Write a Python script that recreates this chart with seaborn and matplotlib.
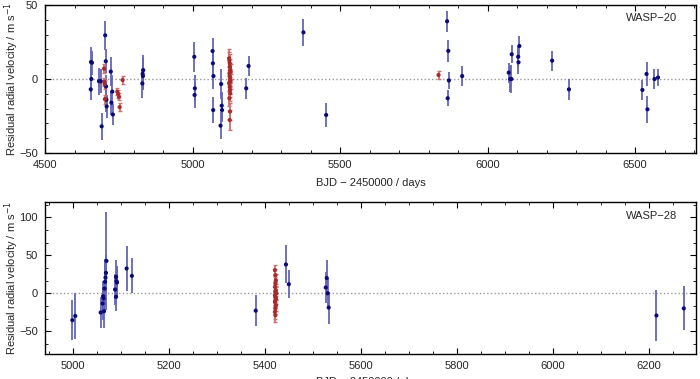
import numpy as np
import pandas as pd
import matplotlib
matplotlib.use('Agg')
import matplotlib.pyplot as plt
from matplotlib.ticker import MultipleLocator
import seaborn as sns

# WASP-20 residuals (BJD - 2450000, residual RV in m/s, error)
w20_coralie_t = [4655, 4656, 4657, 4659, 4683, 4689, 4692, 4704, 4706, 4707,
                 4708, 4709, 4723, 4725, 4728, 4730, 4830, 4831, 4832, 4833,
                 5006, 5007, 5008, 5068, 5069, 5070, 5071, 5095, 5097, 5099,
                 5100, 5182, 5190, 5376, 5453, 5863, 5865, 5867, 5869, 5914,
                 6072, 6077, 6081, 6082, 6104, 6105, 6108, 6219, 6276, 6525,
                 6539, 6542, 6566, 6578]
w20_coralie_rv = [-7, 11.5, 0, 11, -1.5, -1.5, -32, 29.5, 12, -5,
                  -14, -18.5, 5, -16, -8.5, -24, -3, 3.5, 2, 6,
                  15, -10.8, -6.3, 18.9, 10.6, -21, 2, -31.5, -3.4, -18,
                  -21, -6.3, 8.8, 31.5, -24.3, 39, -13, 19, -1, 2,
                  4.3, 0, 0, 16.7, 15, 11.3, 22.3, 12.4, -7, -7.4,
                  3.4, -20.5, 0, 1]
w20_coralie_err = [7, 10, 9, 8, 9, 8, 9, 10, 8, 8,
                   8, 8, 10, 8, 11, 7, 10, 11, 9, 10,
                   10, 9, 9, 9, 9, 9, 9, 9, 10, 9,
                   8, 7, 7, 9, 8, 7, 5.5, 7.5, 5.5, 6.5,
                   6.8, 9, 9.5, 6, 7, 8, 6.5, 6.8, 7, 7,
                   8, 9, 7, 6]

w20_harps_t = [4700, 4701, 4702, 4703, 4745, 4748, 4751, 4753, 4763,
               5124, 5125, 5126, 5127, 5128, 5129, 5125, 5126, 5127, 5128,
               5129, 5124, 5126, 5127, 5128, 5125, 5127, 5126, 5834]
w20_harps_rv = [7, -2, -3.5, -13.6, -8.6, -10, -12, -19, -0.7,
                14, 12.4, 10.6, 8.3, 6.1, 5, 3.8, 2, 0.5, -0.7,
                -1.8, -2.9, -5.2, -7.4, -9.7, -13, -22, -27.7, 2.7]
w20_harps_err = [3, 3, 3, 3, 2.5, 2.5, 2.5, 2.5, 3,
                 6, 6, 6, 5, 5, 5, 5, 5, 5, 5,
                 5, 5, 5, 5, 5, 5, 6, 7, 2.5]

# WASP-28 residuals
w28_coralie_t = [4999, 5005, 5058, 5062, 5063, 5064, 5065, 5066, 5067, 5068,
                 5069, 5070, 5088, 5090, 5090, 5091, 5092, 5112, 5123, 5381,
                 5444, 5450, 5527, 5529, 5531, 5533, 6216, 6273]
w28_coralie_rv = [-35.5, -30, -25.4, -13.6, -3.9, -7, -23.7, 6, 15, 20.6,
                  26.7, 42.5, 4.8, -4.8, 21.5, 15.8, 14, 32.5, 22.8, -23,
                  37.8, 11.8, 7.5, 20, 0, -18.9, -29.4, -20]
w28_coralie_err = [26, 30, 21, 22, 20, 20, 22, 22, 25, 25,
                   24, 65, 20, 18, 22, 20, 20, 30, 23, 20,
                   25, 18.5, 21, 24, 20, 21, 33, 29]

w28_harps_t = [5421, 5422, 5423, 5422, 5421, 5423, 5422, 5424, 5421, 5422,
               5423, 5422, 5421, 5423, 5422, 5421, 5422]
w28_harps_rv = [30.3, 23.7, 17, 12.7, 8.3, 3.9, 1.8, -0.4, -2.6, -4.8,
                -7, -9.2, -11.4, -15.8, -20, -24.6, -29]
w28_harps_err = [7, 8, 8, 8, 7, 8, 7, 8, 7, 8,
                 7, 8, 7, 8, 8, 9, 9]


def make_df(t, rv, err, inst):
    return pd.DataFrame({'t': t, 'rv': rv, 'err': err, 'inst': inst})


w20 = pd.concat([make_df(w20_coralie_t, w20_coralie_rv, w20_coralie_err, 'CORALIE'),
                 make_df(w20_harps_t, w20_harps_rv, w20_harps_err, 'HARPS')])
w28 = pd.concat([make_df(w28_coralie_t, w28_coralie_rv, w28_coralie_err, 'CORALIE'),
                 make_df(w28_harps_t, w28_harps_rv, w28_harps_err, 'HARPS')])

sns.set_style('ticks')
plt.rcParams['font.family'] = ['Liberation Sans', 'DejaVu Sans']
plt.rcParams['font.size'] = 8

point_col = {'CORALIE': '#0a0a7a', 'HARPS': '#a82a2a'}
err_col = {'CORALIE': '#6464b8', 'HARPS': '#cc7272'}

fig = plt.figure(figsize=(7, 3.79), dpi=100)
ax1 = fig.add_axes([0.0643, 0.5963, 0.9297, 0.3905])
ax2 = fig.add_axes([0.0643, 0.066, 0.9297, 0.401])


def draw_panel(ax, df, name, xlabel_y):
    ax.axhline(0, color='#999999', ls=':', lw=1, zorder=0)
    for inst, g in df.groupby('inst'):
        ax.errorbar(g['t'], g['rv'], yerr=g['err'], fmt='none',
                    ecolor=err_col[inst], elinewidth=1.3,
                    capsize=1.2 if inst == 'HARPS' else 0, zorder=1)
    sns.scatterplot(data=df, x='t', y='rv', hue='inst', palette=point_col,
                    s=9, linewidth=0, legend=False, ax=ax, zorder=2)
    ax.text(0.972, 0.91, name, transform=ax.transAxes, ha='right',
            va='center', fontsize=8)
    ax.set_ylabel('Residual radial velocity / m s$^{-1}$', fontsize=8)
    ax.set_xlabel('BJD − 2450000 / days', fontsize=8)
    ax.yaxis.set_label_coords(-0.037, 0.5)
    ax.xaxis.set_label_coords(0.5, xlabel_y)
    ax.tick_params(which='both', direction='in', top=True, right=True,
                   labelsize=8, color='black', pad=5)
    ax.tick_params(which='major', length=4)
    ax.tick_params(which='minor', length=2.5)
    for s in ax.spines.values():
        s.set_linewidth(1)
        s.set_color('black')


draw_panel(ax1, w20, 'WASP−20', -0.17)
ax1.set_xlim(4500, 6706)
ax1.set_ylim(-50, 50)
ax1.xaxis.set_major_locator(MultipleLocator(500))
ax1.xaxis.set_minor_locator(MultipleLocator(100))
ax1.yaxis.set_major_locator(MultipleLocator(50))
ax1.yaxis.set_minor_locator(MultipleLocator(10))

draw_panel(ax2, w28, 'WASP−28', -0.15)
ax2.set_xlim(4942, 6298)
ax2.set_ylim(-80, 120)
ax2.xaxis.set_major_locator(MultipleLocator(200))
ax2.xaxis.set_minor_locator(MultipleLocator(50))
ax2.yaxis.set_major_locator(MultipleLocator(50))
ax2.yaxis.set_minor_locator(MultipleLocator(50 / 3))

fig.savefig('out.png', dpi=100)
